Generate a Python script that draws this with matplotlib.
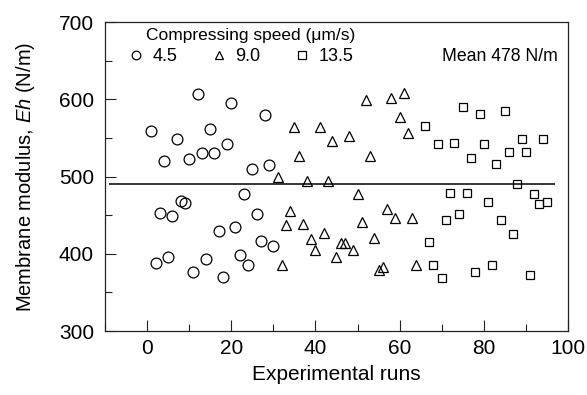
import matplotlib
matplotlib.use("Agg")
import matplotlib.pyplot as plt
from matplotlib.ticker import MultipleLocator
from matplotlib.lines import Line2D

plt.rcParams['font.family'] = ['Liberation Sans', 'DejaVu Sans']
plt.rcParams['mathtext.fontset'] = 'custom'
plt.rcParams['mathtext.it'] = 'Liberation Sans:italic'
plt.rcParams['mathtext.rm'] = 'Liberation Sans'

# ---- data ----
runs_45 = [1, 2, 3, 4, 5, 6, 7, 8, 9, 10, 11, 12, 13, 14, 15,
           16, 17, 18, 19, 20, 21, 22, 23, 24, 25, 26, 27, 28, 29, 30]
eh_45 = [559, 388, 453, 520, 396, 449, 549, 468, 466, 523, 377, 607, 531, 393, 562,
         531, 430, 370, 542, 595, 435, 398, 478, 385, 510, 452, 416, 580, 515, 410]

runs_90 = [31, 32, 33, 34, 35, 36, 37, 38, 39, 40, 41, 42, 43, 44, 45, 46, 47,
           48, 49, 50, 51, 52, 53, 54, 55, 56, 57, 58, 59, 60, 61, 62, 63, 64]
eh_90 = [500, 386, 437, 455, 564, 526, 439, 494, 419, 405, 564, 427, 494, 546, 396, 414, 414,
         552, 405, 477, 441, 599, 526, 421, 379, 383, 458, 601, 446, 577, 608, 556, 446, 386]

runs_135 = [66, 67, 68, 69, 70, 71, 72, 73, 74, 75, 76, 77, 78, 79, 80,
            81, 82, 83, 84, 85, 86, 87, 88, 89, 90, 91, 92, 93, 94, 95]
eh_135 = [565, 415, 386, 542, 368, 444, 479, 543, 451, 590, 479, 524, 376, 581, 542,
          467, 386, 516, 444, 585, 532, 425, 490, 548, 532, 373, 478, 465, 548, 467]

speed_labels = ['4.5', '9.0', '13.5']
legend_title = 'Compressing speed (\u03bcm/s)'
mean_line_value = 490
mean_line_span = [-9, 97]
mean_text = 'Mean 478 N/m'

# ---- figure ----
fig = plt.figure(figsize=(5.87, 3.95), dpi=100)
ax = fig.add_axes([0.1789, 0.1620, 0.7887, 0.7823])

mk = dict(linestyle='none', markerfacecolor='none', markeredgecolor='black',
          markeredgewidth=0.9)
ax.plot(runs_45, eh_45, marker='o', markersize=7.8, **mk)
ax.plot(runs_90, eh_90, marker='^', markersize=7.8, **mk)
ax.plot(runs_135, eh_135, marker='s', markersize=6.3, **mk)

ax.hlines(mean_line_value, mean_line_span[0], mean_line_span[1], color='black', linewidth=1.1)

ax.set_xlim(-10, 100)
ax.set_ylim(300, 700)
ax.xaxis.set_major_locator(MultipleLocator(20))
ax.xaxis.set_minor_locator(MultipleLocator(10))
ax.yaxis.set_major_locator(MultipleLocator(100))
ax.yaxis.set_minor_locator(MultipleLocator(50))
ax.tick_params(which='both', direction='in', top=False, right=False,
               labelsize=15, color='#222222', width=0.8)
ax.tick_params(which='major', length=8)
ax.tick_params(which='minor', length=5)
ax.tick_params(axis='x', which='major', pad=6)
ax.tick_params(axis='y', which='major', pad=8)
for s in ax.spines.values():
    s.set_linewidth(0.9)
    s.set_color('#222222')

ax.set_xlabel('Experimental runs', fontsize=15, labelpad=5)
ax.set_ylabel('Membrane modulus, $Eh$ (N/m)', fontsize=14.5, labelpad=16)

handles = [Line2D([], [], marker=m, markersize=s, **mk) for m, s in
           zip(['o', '^', 's'], [6.2, 6.2, 5.2])]
leg = ax.legend(handles, speed_labels, ncol=3, loc='center left',
                bbox_to_anchor=(0.021, 0.887), frameon=False, fontsize=13,
                handlelength=1.2, handletextpad=0.3, columnspacing=1.7,
                borderaxespad=0.2)
ax.text(0.0886, 0.955, legend_title, transform=ax.transAxes, ha='left', va='center',
        fontsize=12.5)

ax.text(0.978, 0.887, mean_text, transform=ax.transAxes, ha='right', va='center',
        fontsize=12.7)

fig.savefig('out.png', dpi=100)
